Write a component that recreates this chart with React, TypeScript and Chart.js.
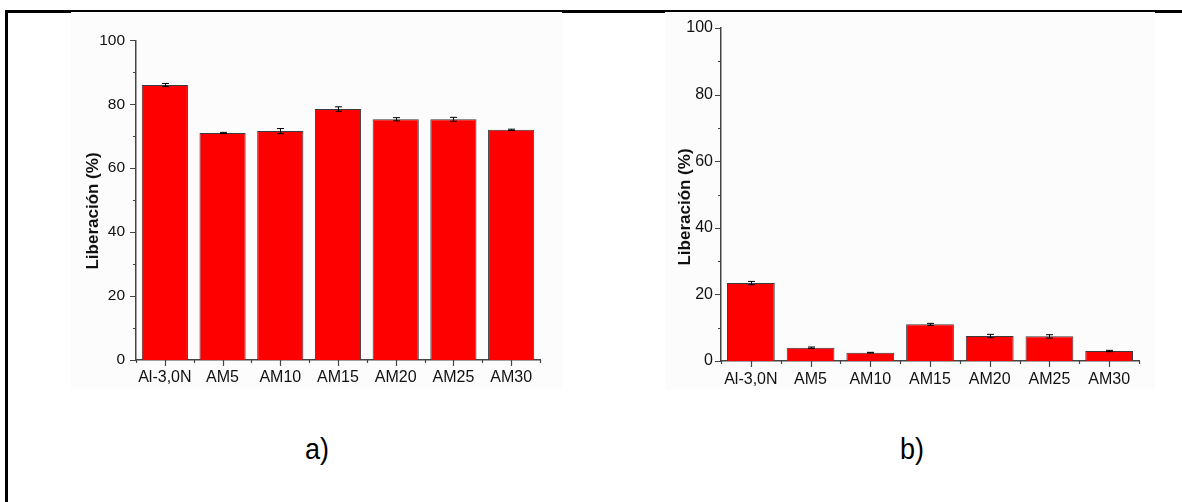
import React, { useEffect, useRef } from 'react';
import { Chart, registerables } from 'chart.js';

Chart.register(...registerables);

// ---- data ----
const categories = ['Al-3,0N', 'AM5', 'AM10', 'AM15', 'AM20', 'AM25', 'AM30'];
const releaseA = [86.0, 71.0, 71.6, 78.5, 75.3, 75.3, 72.0];
const errorA = [0.5, 0.2, 0.8, 0.7, 0.5, 0.6, 0.2];
const releaseB = [23.4, 4.0, 2.5, 11.0, 7.5, 7.4, 3.0];
const errorB = [0.5, 0.2, 0.1, 0.3, 0.5, 0.5, 0.2];
const yMajorTicks = [0, 20, 40, 60, 80, 100];
const yMinorTicks = [10, 30, 50, 70, 90];
const yTitle = 'Liberación (%)';
const panelLabels = ['a)', 'b)'];

const FONT = "'Liberation Sans', Arial, Helvetica, sans-serif";

const errorBarPlugin = {
  id: 'errorBars',
  afterDatasetsDraw(chart: any, _a: any, opts: any) {
    const meta = chart.getDatasetMeta(0);
    const ys = chart.scales.y;
    const ctx = chart.ctx;
    const vals = chart.data.datasets[0].data as number[];
    const errs = opts.errors as number[];
    ctx.save();
    ctx.strokeStyle = '#000';
    ctx.lineWidth = 1;
    meta.data.forEach((el: any, i: number) => {
      const v = vals[i];
      const e = errs[i];
      const x = Math.round(el.x) + 0.5;
      const yt = ys.getPixelForValue(v + e);
      const yb = ys.getPixelForValue(v - e);
      ctx.beginPath();
      ctx.moveTo(x, yt);
      ctx.lineTo(x, yb);
      ctx.moveTo(x - 3.5, yt);
      ctx.lineTo(x + 3.5, yt);
      ctx.moveTo(x - 3.5, yb);
      ctx.lineTo(x + 3.5, yb);
      ctx.stroke();
    });
    ctx.restore();
  },
};

const axisTickPlugin = {
  id: 'axisTicks',
  afterDraw(chart: any) {
    const ctx = chart.ctx;
    const xs = chart.scales.x;
    const ys = chart.scales.y;
    const area = chart.chartArea;
    ctx.save();
    ctx.strokeStyle = '#444';
    ctx.lineWidth = 1.2;
    ctx.beginPath();
    yMajorTicks.forEach((v) => {
      const p = Math.round(ys.getPixelForValue(v)) + 0.5;
      ctx.moveTo(area.left, p);
      ctx.lineTo(area.left - 6, p);
    });
    yMinorTicks.forEach((v) => {
      const p = Math.round(ys.getPixelForValue(v)) + 0.5;
      ctx.moveTo(area.left, p);
      ctx.lineTo(area.left - 3, p);
    });
    const n = chart.data.labels.length;
    for (let i = 0; i < n; i++) {
      const p = Math.round(xs.getPixelForValue(i)) + 0.5;
      ctx.moveTo(p, area.bottom);
      ctx.lineTo(p, area.bottom + 6);
    }
    for (let i = 0; i <= n; i++) {
      let p;
      if (i === 0) p = area.left;
      else if (i === n) p = area.right;
      else p = (xs.getPixelForValue(i - 1) + xs.getPixelForValue(i)) / 2;
      p = Math.round(p) + 0.5;
      ctx.moveTo(p, area.bottom);
      ctx.lineTo(p, area.bottom + 3);
    }
    ctx.stroke();
    ctx.restore();
  },
};

const yTitlePlugin = {
  id: 'yTitleText',
  afterDraw(chart: any, _a: any, opts: any) {
    const ctx = chart.ctx;
    ctx.save();
    ctx.translate(opts.x, opts.y);
    ctx.rotate(-Math.PI / 2);
    ctx.font = `bold ${opts.size}px ${FONT}`;
    ctx.fillStyle = '#111';
    ctx.textAlign = 'center';
    ctx.textBaseline = 'middle';
    ctx.fillText(opts.text, 0, 0);
    ctx.restore();
  },
};

type Geom = {
  left: number;
  top: number;
  width: number;
  height: number;
  padTop: number;
  padRight: number;
  yWidth: number;
  xHeight: number;
  yPad: number;
  xPad: number;
  titleX: number;
  titleY: number;
  yFont: number;
};

function Panel({ values, errors, geom }: { values: number[]; errors: number[]; geom: Geom }) {
  const ref = useRef<HTMLCanvasElement>(null);
  useEffect(() => {
    if (!ref.current) return;
    const chart = new Chart(ref.current, {
      type: 'bar',
      data: {
        labels: categories,
        datasets: [
          {
            data: values,
            backgroundColor: '#ff0000',
            borderColor: '#3a3a3a',
            borderWidth: 1,
            barPercentage: 0.8,
            categoryPercentage: 1,
          },
        ],
      },
      options: {
        responsive: false,
        animation: false,
        devicePixelRatio: 1,
        layout: { padding: { top: geom.padTop, right: geom.padRight, left: 0, bottom: 0 } },
        plugins: {
          legend: { display: false },
          tooltip: { enabled: false },
          errorBars: { errors },
          yTitleText: { text: yTitle, x: geom.titleX, y: geom.titleY, size: 17 },
        } as any,
        scales: {
          x: {
            grid: { display: false, drawTicks: false },
            border: { display: true, color: '#444', width: 1.5 },
            ticks: { color: '#111', font: { family: FONT, size: 16 }, padding: geom.xPad, maxRotation: 0, autoSkip: false },
            afterFit: (s: any) => {
              s.height = geom.xHeight;
            },
          },
          y: {
            min: 0,
            max: 100,
            grid: { display: false, drawTicks: false },
            border: { display: true, color: '#444', width: 1.5 },
            ticks: { stepSize: 20, color: '#111', font: { family: FONT, size: geom.yFont }, padding: geom.yPad },
            afterFit: (s: any) => {
              s.width = geom.yWidth;
            },
          },
        },
      },
      plugins: [errorBarPlugin, axisTickPlugin, yTitlePlugin],
    } as any);
    return () => chart.destroy();
  }, []);
  return (
    <canvas
      ref={ref}
      width={geom.width}
      height={geom.height}
      style={{ position: 'absolute', left: geom.left, top: geom.top, width: geom.width, height: geom.height }}
    />
  );
}

const geomA: Geom = {
  left: 60, top: 20, width: 500, height: 380,
  padTop: 20, padRight: 20, yWidth: 76, xHeight: 40,
  yPad: 11, xPad: 8, titleX: 33, titleY: 191, yFont: 15.5,
};
const geomB: Geom = {
  left: 640, top: 10, width: 520, height: 390,
  padTop: 18, padRight: 21, yWidth: 81, xHeight: 39,
  yPad: 8, xPad: 9, titleX: 45, titleY: 197, yFont: 16,
};

export default function App() {
  return (
    <div style={{ position: 'absolute', left: 0, top: 0, width: 1182, height: 502, background: '#fff', overflow: 'hidden', fontFamily: FONT }}>
      <div style={{ position: 'absolute', left: 5, top: 10, width: 1177, height: 3, background: '#000' }} />
      <div style={{ position: 'absolute', left: 5, top: 10, width: 3, height: 492, background: '#000' }} />
      <div style={{ position: 'absolute', left: 71, top: 12, width: 491, height: 378, background: '#fcfcfc' }} />
      <div style={{ position: 'absolute', left: 665, top: 12, width: 490, height: 378, background: '#fcfcfc' }} />
      <Panel values={releaseA} errors={errorA} geom={geomA} />
      <Panel values={releaseB} errors={errorB} geom={geomB} />
      <div style={{ position: 'absolute', left: 267, top: 432, width: 100, textAlign: 'center', fontSize: 27, lineHeight: '34px', color: '#000', transform: 'scaleY(1.1)' }}>
        {panelLabels[0]}
      </div>
      <div style={{ position: 'absolute', left: 862, top: 432, width: 100, textAlign: 'center', fontSize: 27, lineHeight: '34px', color: '#000', transform: 'scaleY(1.1)' }}>
        {panelLabels[1]}
      </div>
    </div>
  );
}
